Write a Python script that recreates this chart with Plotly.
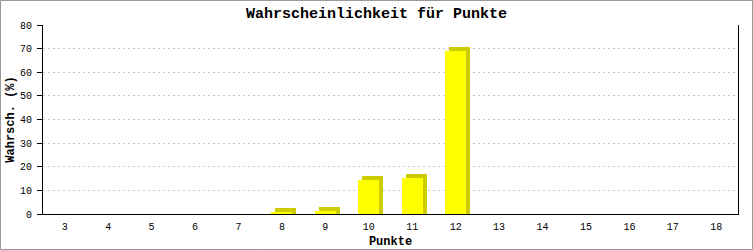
import plotly.graph_objects as go

categories = [3, 4, 5, 6, 7, 8, 9, 10, 11, 12, 13, 14, 15, 16, 17, 18]
values = [0, 0, 0, 0, 0, 0.8, 1.4, 14.2, 15.1, 69.2, 0, 0, 0, 0, 0, 0]
y_ticks = [0, 10, 20, 30, 40, 50, 60, 70, 80]

W, H = 753, 250
ML, MR, MT, MB = 43, 15, 25, 36
pw, ph = W - ML - MR, H - MT - MB
ymax = 80
xr = [2.5, 18.5]
px_x = (xr[1] - xr[0]) / pw
px_y = ymax / ph
depth = 4
bw = 21 * px_x

shadow_vals = [v + depth * px_y if v > 0 else 0 for v in values]

mono = "Liberation Mono"

fig = go.Figure()
fig.add_trace(go.Bar(
    x=categories, y=shadow_vals, width=bw, offset=-bw / 2 + depth * px_x,
    marker=dict(color="#cccc00", line=dict(width=0)), hoverinfo="skip",
    showlegend=False,
))
fig.add_trace(go.Bar(
    x=categories, y=values, width=bw, offset=-bw / 2,
    marker=dict(color="#ffff00", line=dict(width=0)),
    showlegend=False,
))

fig.update_layout(
    width=W, height=H,
    margin=dict(l=ML, r=MR, t=MT, b=MB, pad=0, autoexpand=False),
    paper_bgcolor="white", plot_bgcolor="white",
    barmode="overlay", bargap=0,
    title=dict(text="Wahrscheinlichkeit für Punkte", x=0.5, xref="container",
               xanchor="center", y=1 - 13 / H, yanchor="middle",
               font=dict(family=mono, size=15, color="black", weight="bold")),
    font=dict(family=mono, color="black"),
    xaxis=dict(
        range=xr, tickvals=categories, ticktext=[str(c) for c in categories],
        showgrid=False, zeroline=False, showline=True, linecolor="black",
        linewidth=1, ticks="", ticklabelstandoff=3, automargin=False,
        tickfont=dict(family=mono, size=10, color="black"),
        title=dict(text="Punkte", standoff=4,
                   font=dict(family=mono, size=12, color="black", weight="bold")),
    ),
    yaxis=dict(
        range=[0, ymax], tickvals=y_ticks, showgrid=True, gridcolor="#c8c8c8",
        griddash="2px,3px", gridwidth=1, zeroline=False, showline=True,
        linecolor="black", linewidth=1, mirror=True, ticks="outside",
        ticklen=5, tickcolor="black", ticklabelstandoff=3, automargin=False,
        tickfont=dict(family=mono, size=10, color="black"),
        title=dict(text="Wahrsch. (%)", standoff=2,
                   font=dict(family=mono, size=12, color="black", weight="bold")),
    ),
    shapes=[dict(
        type="rect", xref="paper", yref="paper",
        x0=(0.5 - ML) / pw, x1=(W - 0.5 - ML) / pw,
        y0=(H - MB - (H - 0.5)) / ph, y1=(H - MB - 0.5) / ph,
        line=dict(color="#999999", width=1), layer="below",
    )],
)

fig.write_html("out.html")
